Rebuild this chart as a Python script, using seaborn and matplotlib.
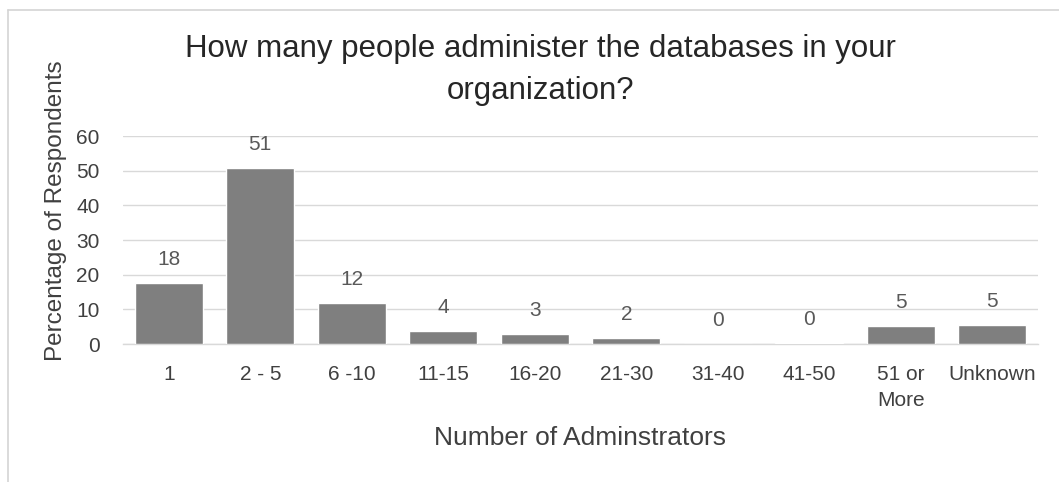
import matplotlib
matplotlib.use("Agg")
import matplotlib.pyplot as plt
from matplotlib.lines import Line2D
import seaborn as sns

# Survey results: share of respondents by number of database administrators
categories = ["1", "2 - 5", "6 -10", "11-15", "16-20", "21-30", "31-40", "41-50", "51 or\nMore", "Unknown"]
percentages = [17.6, 50.8, 11.9, 3.8, 2.8, 1.8, 0.0, 0.4, 5.1, 5.4]
y_ticks = [0, 10, 20, 30, 40, 50, 60]

sns.set_theme(style="white")
plt.rcParams["font.family"] = ["Liberation Sans", "DejaVu Sans"]

W, H = 1059, 482
fig = plt.figure(figsize=(W / 100, H / 100), dpi=100)
fig.patch.set_facecolor("white")

# Light frame around the chart area
fig.add_artist(Line2D([8 / W, 8 / W], [0, 1 - 9.5 / H], transform=fig.transFigure, color="#d4d4d4", lw=1.2))
fig.add_artist(Line2D([8 / W, 1], [1 - 9.5 / H, 1 - 9.5 / H], transform=fig.transFigure, color="#d4d4d4", lw=1.2))

ax = fig.add_axes([123 / W, 1 - 344 / H, 915 / W, 208 / H])

sns.barplot(x=categories, y=percentages, color="#7f7f7f", saturation=1, width=0.74, ax=ax, zorder=3)

ax.set_ylim(0, 60)
ax.set_xlim(-0.5, len(categories) - 0.5)
ax.set_yticks(y_ticks)
ax.yaxis.grid(True, color="#d9d9d9", lw=1, zorder=0)
ax.set_axisbelow(True)
for side in ["left", "right", "top"]:
    ax.spines[side].set_visible(False)
ax.spines["bottom"].set_color("#d9d9d9")
ax.spines["bottom"].set_linewidth(1)
ax.tick_params(axis="both", length=0, labelsize=15, colors="#404040")
ax.tick_params(axis="y", pad=17)
ax.tick_params(axis="x", pad=15)
for lbl in ax.get_xticklabels():
    lbl.set_linespacing(1.5)

# Value labels above each bar, rounded to whole percent
ax.bar_label(ax.containers[0], labels=[f"{round(v):d}" for v in percentages],
             padding=10, fontsize=15, color="#595959")

ax.set_ylabel("Percentage of Respondents", fontsize=17.5, color="#404040")
ax.yaxis.set_label_coords(-0.061, 0.64)
ax.set_xlabel("Number of Adminstrators", fontsize=19, color="#404040")
ax.xaxis.set_label_coords(0.5, -0.394)

fig.text(540 / W, 1 - 70 / H, "How many people administer the databases in your\norganization?",
         ha="center", va="center", fontsize=22.5, color="#262626", linespacing=1.5)

fig.savefig("out.png", dpi=100)
